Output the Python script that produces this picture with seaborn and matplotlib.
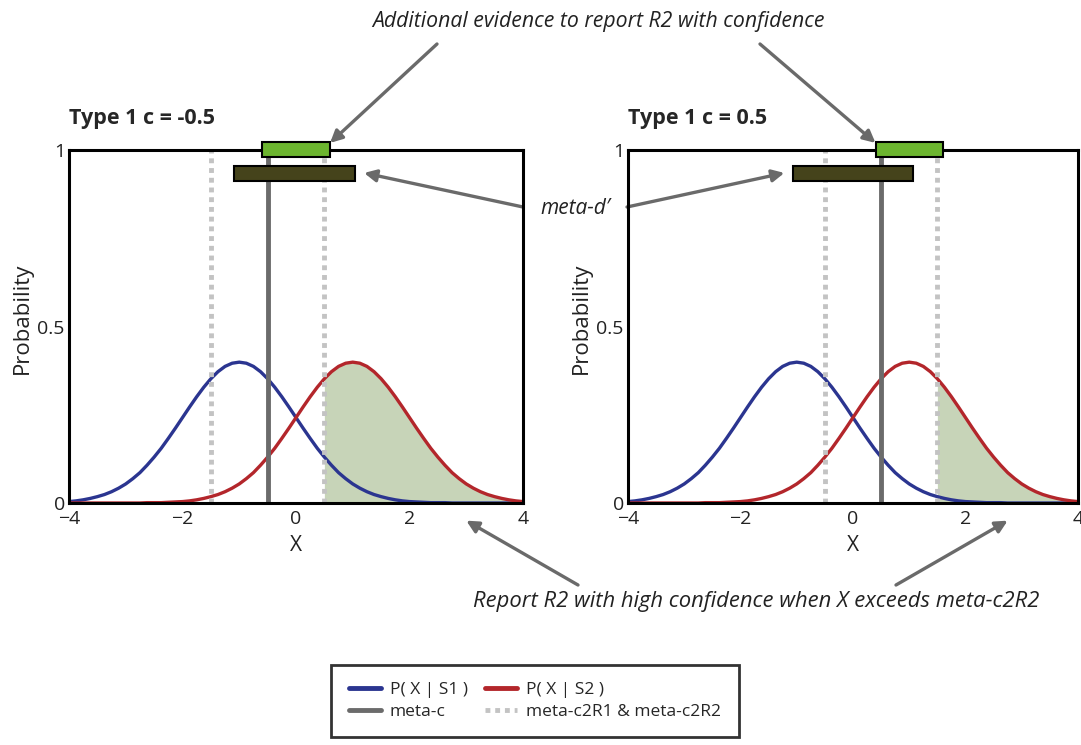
import numpy as np
import pandas as pd
import matplotlib
matplotlib.use("Agg")
import matplotlib.pyplot as plt
from matplotlib.lines import Line2D
import seaborn as sns

# ================== DATA ==================

x_vals = [-4.0, -3.875, -3.75, -3.625, -3.5, -3.375, -3.25, -3.125, -3.0, -2.875, -2.75,
          -2.625, -2.5, -2.375, -2.25, -2.125, -2.0, -1.875, -1.75, -1.625, -1.5, -1.375,
          -1.25, -1.125, -1.0, -0.875, -0.75, -0.625, -0.5, -0.375, -0.25, -0.125, 0.0,
          0.125, 0.25, 0.375, 0.5, 0.625, 0.75, 0.875, 1.0, 1.125, 1.25, 1.375, 1.5,
          1.625, 1.75, 1.875, 2.0, 2.125, 2.25, 2.375, 2.5, 2.625, 2.75, 2.875, 3.0,
          3.125, 3.25, 3.375, 3.5, 3.625, 3.75, 3.875, 4.0]

# P(X | S1) - blue curve
p_s1 = [0.004, 0.006, 0.009, 0.013, 0.018, 0.024, 0.032, 0.042, 0.054, 0.069, 0.086,
        0.107, 0.130, 0.155, 0.183, 0.212, 0.242, 0.272, 0.301, 0.328, 0.352, 0.372,
        0.387, 0.396, 0.399, 0.396, 0.387, 0.372, 0.352, 0.328, 0.301, 0.272, 0.242,
        0.212, 0.183, 0.155, 0.130, 0.107, 0.086, 0.069, 0.054, 0.042, 0.032, 0.024,
        0.018, 0.013, 0.009, 0.006, 0.004, 0.003, 0.002, 0.001, 0.001, 0.001, 0.000,
        0.000, 0.000, 0.000, 0.000, 0.000, 0.000, 0.000, 0.000, 0.000, 0.000]

# P(X | S2) - red curve
p_s2 = [0.000, 0.000, 0.000, 0.000, 0.000, 0.000, 0.000, 0.000, 0.000, 0.000, 0.000,
        0.001, 0.001, 0.001, 0.002, 0.003, 0.004, 0.006, 0.009, 0.013, 0.018, 0.024,
        0.032, 0.042, 0.054, 0.069, 0.086, 0.107, 0.130, 0.155, 0.183, 0.212, 0.242,
        0.272, 0.301, 0.328, 0.352, 0.372, 0.387, 0.396, 0.399, 0.396, 0.387, 0.372,
        0.352, 0.328, 0.301, 0.272, 0.242, 0.212, 0.183, 0.155, 0.130, 0.107, 0.086,
        0.069, 0.054, 0.042, 0.032, 0.024, 0.018, 0.013, 0.009, 0.006, 0.004]

panel_titles = ["Type 1 c = -0.5", "Type 1 c = 0.5"]
meta_c = [-0.5, 0.5]
meta_c2r1 = [-1.5, -0.5]
meta_c2r2 = [0.5, 1.5]

# meta-d' bar (dark) and "additional evidence" bar (light green)
meta_d_lo = [-1.1, -1.07]
meta_d_hi = [1.04, 1.07]
meta_d_y = 0.934
extra_lo = [-0.6, 0.4]
extra_hi = [0.6, 1.6]
extra_y = 1.002

x_ticks = [-4, -2, 0, 2, 4]
y_ticks = [0, 0.5, 1]
y_ticklabels = ["0", "0.5", "1"]

legend_labels = ["P( X | S1 )", "meta-c", "P( X | S2 )", "meta-c2R1 & meta-c2R2"]

# arrow tips (data coords of each panel)
green_tip = [(0.6, 1.02), (0.4, 1.02)]
metad_tip = [(1.2, 0.935), (-1.22, 0.935)]
report_tip = [(3.0, -0.05), (2.75, -0.05)]

# ================== STYLE ==================

sns.set_style("white")
plt.rcParams['font.family'] = ['Open Sans', 'DejaVu Sans']

BLUE = "#2b3590"
RED = "#b3262b"
GREY = "#6b6b6b"
LIGHT = "#c3c3c3"
FILL = "#c7d4b8"
GREEN = "#6cb52f"
DARK = "#45431b"
ARROW = "#6a6a6a"
TXT = "#222222"

W, H = 1081, 745
fig = plt.figure(figsize=(W / 100, H / 100), dpi=100)

def fp(px, py):
    return (px / W, 1 - py / H)

ax_boxes = [[69, 503, 454, 353], [628, 503, 450, 353]]
axes = []

long_df = pd.DataFrame({
    'X': x_vals * 2,
    'Probability': p_s1 + p_s2,
    'dist': ['S1'] * len(x_vals) + ['S2'] * len(x_vals),
})

for i in range(2):
    l, b, w, h = ax_boxes[i]
    ax = fig.add_axes([l / W, 1 - b / H, w / W, h / H])
    axes.append(ax)

    # shaded region under red curve beyond meta-c2R2
    sub = long_df[(long_df['dist'] == 'S2') & (long_df['X'] >= meta_c2r2[i])]
    ax.fill_between(sub['X'], 0, sub['Probability'], color=FILL, lw=0, zorder=1)

    sns.lineplot(data=long_df, x='X', y='Probability', hue='dist',
                 palette={'S1': BLUE, 'S2': RED}, lw=2.4, legend=False, ax=ax, zorder=3)

    ax.axvline(meta_c[i], color=GREY, lw=3.5, zorder=4)
    for c in (meta_c2r1[i], meta_c2r2[i]):
        ax.axvline(c, color=LIGHT, lw=3.5, ls=(0, (1, 1)), zorder=4)

    ax.barh([meta_d_y], [meta_d_hi[i] - meta_d_lo[i]], left=[meta_d_lo[i]], height=0.043,
            color=DARK, edgecolor='black', lw=1.5, zorder=6, clip_on=False)
    ax.barh([extra_y], [extra_hi[i] - extra_lo[i]], left=[extra_lo[i]], height=0.042,
            color=GREEN, edgecolor='black', lw=1.5, zorder=6, clip_on=False)

    ax.set_xlim(-4, 4)
    ax.set_ylim(0, 1)
    ax.set_xticks(x_ticks)
    ax.set_yticks(y_ticks)
    ax.set_yticklabels(y_ticklabels)
    ax.tick_params(length=0, labelsize=14, colors=TXT, pad=3)
    ax.tick_params(axis='x', pad=5)
    for s in ax.spines.values():
        s.set_color('black')
        s.set_linewidth(2.2)
        s.set_zorder(5)
    ax.set_xlabel("X", fontsize=15, labelpad=5, color=TXT)
    ax.set_ylabel("Probability", fontsize=16, color=TXT)
    ax.yaxis.set_label_coords(-0.08, 0.524)
    ax.set_title(panel_titles[i], loc='left', fontsize=15.5, fontweight='bold', pad=19)

# ================== ANNOTATIONS ==================

arrow_kw = dict(arrowstyle='-|>', color=ARROW, lw=2.4, mutation_scale=18, shrinkA=0, shrinkB=0)

fig.text(*fp(598, 22), "Additional evidence to report R2 with confidence",
         ha='center', va='center', fontsize=15.3, style='italic', color=TXT)
axes[0].annotate("", xy=green_tip[0], xycoords='data', xytext=fp(437, 44),
                 textcoords='figure fraction', arrowprops=arrow_kw, annotation_clip=False)
axes[1].annotate("", xy=green_tip[1], xycoords='data', xytext=fp(760, 44),
                 textcoords='figure fraction', arrowprops=arrow_kw, annotation_clip=False)

fig.text(*fp(576, 208), "meta-d\u2032", ha='center', va='center', fontsize=15,
         style='italic', color=TXT)
axes[0].annotate("", xy=metad_tip[0], xycoords='data', xytext=fp(523, 207),
                 textcoords='figure fraction', arrowprops=arrow_kw, annotation_clip=False)
axes[1].annotate("", xy=metad_tip[1], xycoords='data', xytext=fp(627, 207),
                 textcoords='figure fraction', arrowprops=arrow_kw, annotation_clip=False)

fig.text(*fp(756, 601), "Report R2 with high confidence when X exceeds meta-c2R2",
         ha='center', va='center', fontsize=15.8, style='italic', color=TXT)
axes[0].annotate("", xy=report_tip[0], xycoords='data', xytext=fp(578, 585),
                 textcoords='figure fraction', arrowprops=arrow_kw, annotation_clip=False)
axes[1].annotate("", xy=report_tip[1], xycoords='data', xytext=fp(896, 585),
                 textcoords='figure fraction', arrowprops=arrow_kw, annotation_clip=False)

# ================== LEGEND ==================

handles = [
    Line2D([], [], color=BLUE, lw=3.5),
    Line2D([], [], color=GREY, lw=3.5),
    Line2D([], [], color=RED, lw=3.5),
    Line2D([], [], color=LIGHT, lw=3.5, ls=(0, (1, 1))),
]
leg = fig.legend(handles, legend_labels, ncol=2, loc='center', bbox_to_anchor=fp(535, 701),
                 fontsize=12.5, frameon=True, fancybox=False, handlelength=1.84,
                 columnspacing=1.0, handletextpad=0.52, borderpad=1.0, labelspacing=0.32)
leg.get_frame().set_edgecolor('black')
leg.get_frame().set_linewidth(2)

fig.savefig("out.png", dpi=100)
